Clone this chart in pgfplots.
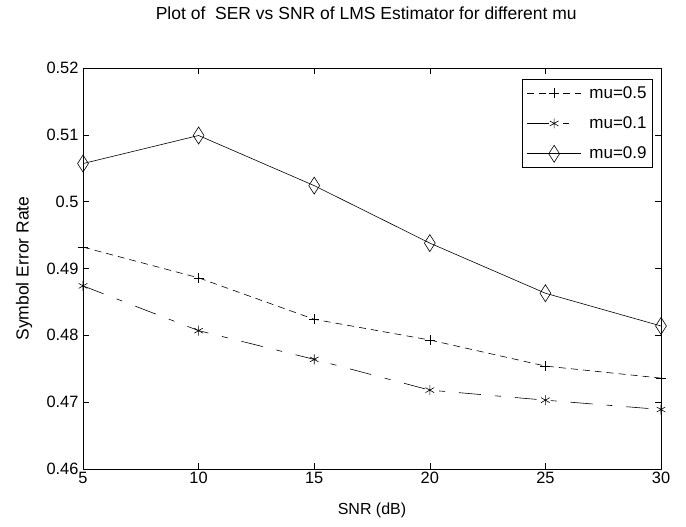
\documentclass[border=0pt]{standalone}
\usepackage{fontspec}
\setmainfont{Liberation Sans}
\usepackage{pgfplots}
\pgfplotsset{compat=1.18}
\begin{document}
\begin{tikzpicture}
\path (0,0) rectangle (686bp,527bp);
\begin{axis}[
  at={(83bp,58bp)}, anchor=south west,
  scale only axis, width=578bp, height=401bp,
  xmin=5, xmax=30, ymin=0.46, ymax=0.52,
  xtick={5,10,15,20,25,30},
  ytick={0.46,0.47,0.48,0.49,0.5,0.51,0.52},
  yticklabel style={/pgf/number format/fixed, /pgf/number format/precision=2},
  /pgf/number format/assume math mode=true,
  tick align=inside, major tick length=6bp,
  tick style={black, line width=0.6bp},
  axis line style={line width=0.8bp},
  ticklabel style={font=\fontsize{16.4bp}{18bp}\selectfont},
  xticklabel style={yshift=0bp},
  yticklabel style={xshift=-1bp},
  xlabel={SNR (dB)}, ylabel={Symbol Error Rate},
  xlabel style={at={(axis description cs:0.5,-0.102)}, anchor=center, font=\fontsize{16bp}{18bp}\selectfont},
  ylabel style={at={(axis description cs:-0.102,0.5)}, anchor=center, font=\fontsize{17.5bp}{19bp}\selectfont},
  title={Plot of \ SER vs SNR of LMS Estimator for different mu},
  title style={at={(axis description cs:0.49,1.122)}, anchor=center, font=\fontsize{17.5bp}{19bp}\selectfont},
  legend style={at={(1,1)}, anchor=north east, xshift=-8bp, yshift=-11bp,
     draw=black, line width=0.8bp, font=\fontsize{17bp}{19bp}\selectfont,
     row sep=13bp, inner xsep=4bp, inner ysep=5bp, cells={anchor=west}},
  legend image code/.code={\draw[mark repeat=2, mark phase=2, #1] plot coordinates {(0bp,0bp) (27bp,0bp) (54bp,0bp)}; \path (60bp,0bp);},
]
\addplot[black, line width=0.6bp, dash pattern=on 7bp off 5bp, mark=+, mark size=5bp, mark options={solid}]
  coordinates {(5,0.4932) (10,0.4886) (15,0.4824) (20,0.4793) (25,0.4754) (30,0.4736)};
\addlegendentry{mu=0.5}
\addplot[black, line width=0.6bp, dash pattern=on 22bp off 14bp on 6bp off 14bp, mark=asterisk, mark size=5bp, mark options={solid}]
  coordinates {(5,0.4874) (10,0.4807) (15,0.4764) (20,0.4718) (25,0.4703) (30,0.4689)};
\addlegendentry{mu=0.1}
\addplot[black, line width=0.6bp, mark=diamond, mark size=8.5bp, mark options={solid, xscale=0.85, fill=white}]
  coordinates {(5,0.5057) (10,0.5099) (15,0.5024) (20,0.4938) (25,0.4863) (30,0.4814)};
\addlegendentry{mu=0.9}
\end{axis}
\end{tikzpicture}
\end{document}
